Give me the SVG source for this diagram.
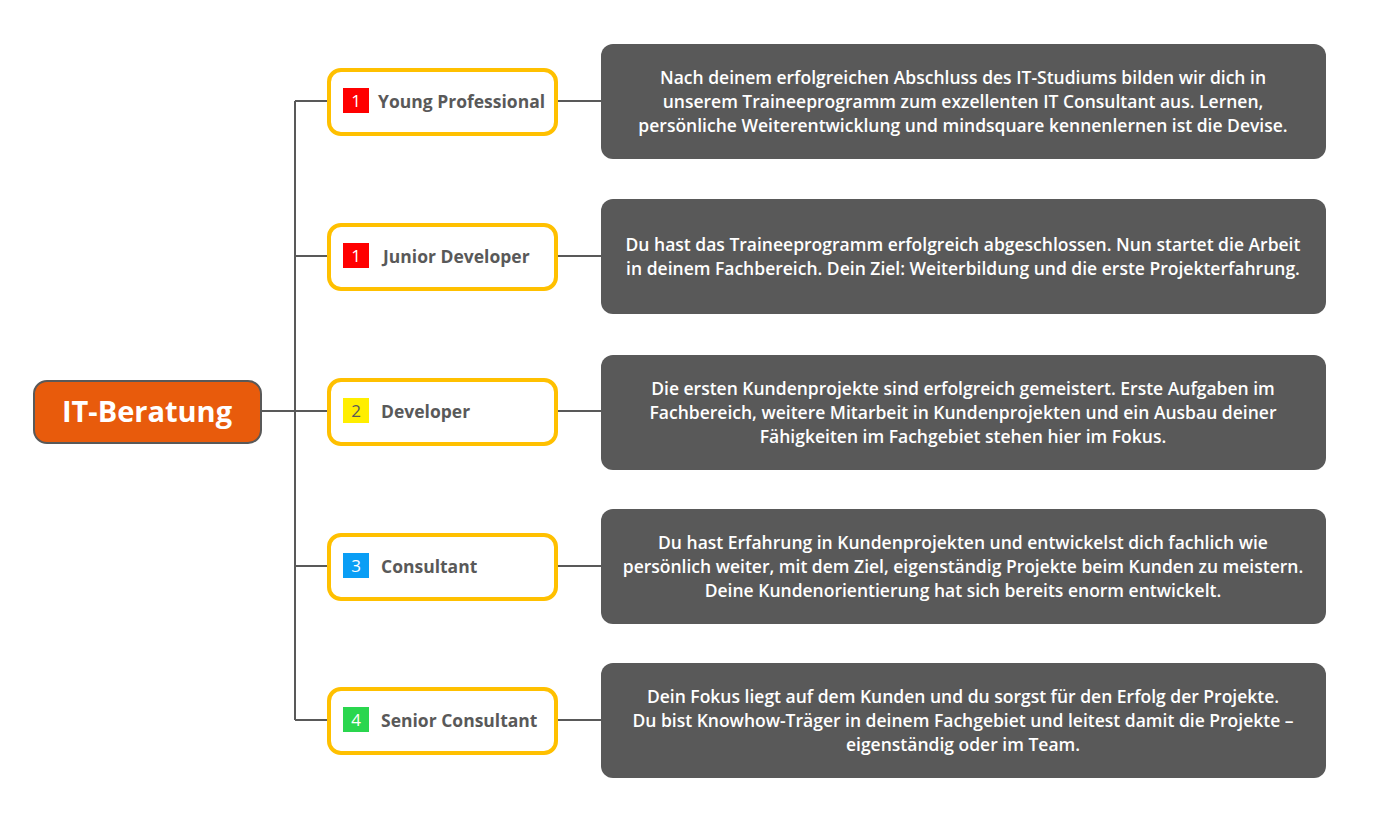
<svg xmlns="http://www.w3.org/2000/svg" width="1383" height="821" viewBox="0 0 1383 821">
<style>
.conn{stroke:#595959;stroke-width:2;fill:none}
.step{fill:#fff;stroke:#FFC000;stroke-width:4}
.lbl{font-family:"Open Sans","Liberation Sans",sans-serif;font-weight:700;font-size:17.5px;fill:#595959}
.num{font-family:"Open Sans","Liberation Sans",sans-serif;font-size:17px;fill:#fff;text-anchor:middle}
.desc{fill:#595959}
.dt{font-family:"Open Sans","Liberation Sans",sans-serif;font-size:17.5px;font-weight:600;fill:#fff;text-anchor:middle}
</style>
<rect width="1383" height="821" fill="#fff"/>
<g id="connectors">
<path class="conn" d="M261 411H330M295 101V720M295 101H330M295 256H330M295 566H330M295 720H330"/>
<path class="conn" d="M558 101H601M558 256H601M558 411H601M558 566H601M558 720H601"/>
</g>
<g id="root">
<rect x="34" y="381" width="227" height="62" rx="13" fill="#E85B0C" stroke="#595959" stroke-width="2"/>
<text x="147" y="422" font-family="Open Sans, Liberation Sans, sans-serif" font-weight="700" font-size="29" fill="#fff" text-anchor="middle">IT-Beratung</text>
</g>
<g id="step1">
<rect class="step" x="329" y="70" width="227" height="64" rx="12"/>
<rect x="343" y="88" width="26" height="25" fill="#FF0000"/>
<text class="num" x="356" y="107">1</text>
<text class="lbl" x="378" y="108">Young Professional</text>
</g>
<g id="step2">
<rect class="step" x="329" y="225" width="227" height="64" rx="12"/>
<rect x="343" y="243" width="26" height="25" fill="#FF0000"/>
<text class="num" x="356" y="262">1</text>
<text class="lbl" x="383" y="263">Junior Developer</text>
</g>
<g id="step3">
<rect class="step" x="329" y="380" width="227" height="64" rx="12"/>
<rect x="343" y="398" width="26" height="25" fill="#FFEE00"/>
<text class="num" x="356" y="417" style="fill:#595959">2</text>
<text class="lbl" x="381" y="418">Developer</text>
</g>
<g id="step4">
<rect class="step" x="329" y="535" width="227" height="64" rx="12"/>
<rect x="343" y="553" width="26" height="25" fill="#0A9EF5"/>
<text class="num" x="356" y="572">3</text>
<text class="lbl" x="381" y="573">Consultant</text>
</g>
<g id="step5">
<rect class="step" x="329" y="689" width="227" height="64" rx="12"/>
<rect x="343" y="707" width="26" height="25" fill="#2AD64E"/>
<text class="num" x="356" y="726">4</text>
<text class="lbl" x="381" y="727">Senior Consultant</text>
</g>
<g id="desc1">
<rect class="desc" x="601" y="44" width="725" height="115" rx="12"/>
<text class="dt" x="963" y="84">Nach deinem erfolgreichen Abschluss des IT-Studiums bilden wir dich in</text>
<text class="dt" x="963" y="108">unserem Traineeprogramm zum exzellenten IT Consultant aus. Lernen,</text>
<text class="dt" x="963" y="132">persönliche Weiterentwicklung und mindsquare kennenlernen ist die Devise.</text>
</g>
<g id="desc2">
<rect class="desc" x="601" y="199" width="725" height="115" rx="12"/>
<text class="dt" x="963" y="251">Du hast das Traineeprogramm erfolgreich abgeschlossen. Nun startet die Arbeit</text>
<text class="dt" x="963" y="275">in deinem Fachbereich. Dein Ziel: Weiterbildung und die erste Projekterfahrung.</text>
</g>
<g id="desc3">
<rect class="desc" x="601" y="355" width="725" height="115" rx="12"/>
<text class="dt" x="963" y="395">Die ersten Kundenprojekte sind erfolgreich gemeistert. Erste Aufgaben im</text>
<text class="dt" x="963" y="419">Fachbereich, weitere Mitarbeit in Kundenprojekten und ein Ausbau deiner</text>
<text class="dt" x="963" y="443">Fähigkeiten im Fachgebiet stehen hier im Fokus.</text>
</g>
<g id="desc4">
<rect class="desc" x="601" y="509" width="725" height="115" rx="12"/>
<text class="dt" x="963" y="549">Du hast Erfahrung in Kundenprojekten und entwickelst dich fachlich wie</text>
<text class="dt" x="963" y="573">persönlich weiter, mit dem Ziel, eigenständig Projekte beim Kunden zu meistern.</text>
<text class="dt" x="963" y="597">Deine Kundenorientierung hat sich bereits enorm entwickelt.</text>
</g>
<g id="desc5">
<rect class="desc" x="601" y="663" width="725" height="115" rx="12"/>
<text class="dt" x="963" y="703">Dein Fokus liegt auf dem Kunden und du sorgst für den Erfolg der Projekte.</text>
<text class="dt" x="963" y="727">Du bist Knowhow-Träger in deinem Fachgebiet und leitest damit die Projekte –</text>
<text class="dt" x="963" y="751">eigenständig oder im Team.</text>
</g>
</svg>
